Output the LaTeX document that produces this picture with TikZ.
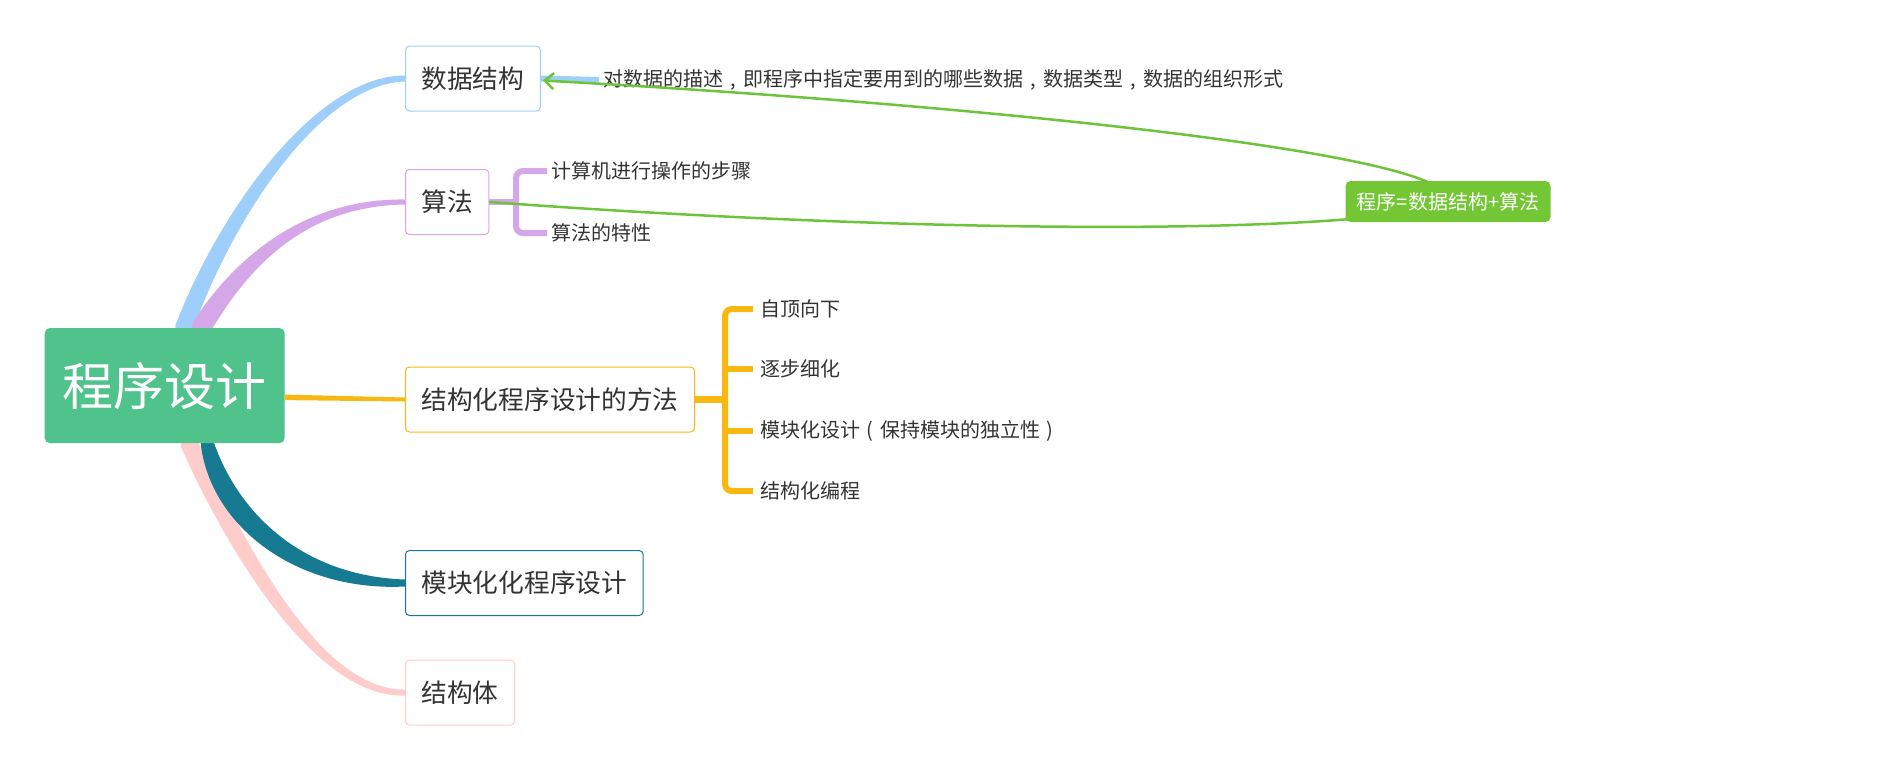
\documentclass[tikz,border=0pt]{standalone}
\usepackage{fontspec}
\newfontfamily\cjk{Noto Sans CJK SC}
\usetikzlibrary{arrows.meta,calc,backgrounds}
\definecolor{cblue}{HTML}{9ECEFA}
\definecolor{cpurple}{HTML}{D5A6E8}
\definecolor{corange}{HTML}{F8B711}
\definecolor{cteal}{HTML}{177A93}
\definecolor{cpink}{HTML}{FFCCCC}
\definecolor{croot}{HTML}{50C28C}
\definecolor{cgreen}{HTML}{73C734}
\definecolor{cgline}{HTML}{6DC43A}
\definecolor{txt}{HTML}{333333}
\newcommand{\cm}{\makebox[1em][c]{,}}
\newcommand{\lpar}{\makebox[1em][c]{(}}
\newcommand{\rpar}{\makebox[1em][c]{)}}
\begin{document}
\begin{tikzpicture}[x=1pt,y=-1pt,
  topic/.style={draw=#1,line width=1pt,rounded corners=4pt,fill=white,minimum height=65pt,
    inner xsep=16pt,inner ysep=0pt,font=\cjk\fontsize{25.7pt}{30pt}\selectfont,text=txt,anchor=west},
  subtxt/.style={anchor=west,inner sep=0pt,font=\cjk\fontsize{20pt}{24pt}\selectfont,text=txt},
  bracket/.style={draw=#1,line width=6pt,rounded corners=7pt},
  rel/.style={draw=cgline,line width=2.5pt},
]
\useasboundingbox (0,0) rectangle (1892,774);

% main topic nodes
\node[topic=cblue] (dsj) at (405,78.5) {数据结构};
\node[topic=cpurple] (sf) at (405,202) {算法};
\node[topic=corange] (jg) at (405,399.5) {结构化程序设计的方法};
\node[topic=cteal] (mk) at (405,583) {模块化化程序设计};
\node[topic=cpink] (jgt) at (405,692.5) {结构体};

% root
\node[fill=croot,rounded corners=5pt,minimum width=240pt,minimum height=115pt,inner sep=0pt,
  text=white,font=\cjk\fontsize{51pt}{60pt}\selectfont] (root) at (164.7,385.6) {程序设计};

% tapered branches behind the nodes
\begin{pgfonlayer}{background}
\fill[cblue] (175.5,325) .. controls (221,207) and (318,75) .. ($(dsj.west)+(0,-3)$)
  -- ($(dsj.west)+(0,3)$) .. controls (322,84) and (235,213) .. (192.5,331)
  -- (195,380) -- (172,380) -- cycle;
\fill[cpurple] (193,322) .. controls (231,263) and (300,198) .. ($(sf.west)+(0,-2.5)$)
  -- ($(sf.west)+(0,2.5)$) .. controls (300,206) and (245,273) .. (209,334)
  -- (205,380) -- (185,380) -- cycle;
\fill[cpink] (181,447) .. controls (230,557) and (318,699) .. ($(jgt.west)+(0,3)$)
  -- ($(jgt.west)+(0,-3)$) .. controls (322,691) and (246,549) .. (197,439)
  -- (200,400) -- (180,400) -- cycle;
\fill[cteal] (201,446) .. controls (212,528) and (298,592) .. ($(mk.west)+(0,3.5)$)
  -- ($(mk.west)+(0,-3.5)$) .. controls (303,576) and (238,514) .. (213,440)
  -- (213,400) -- (201,400) -- cycle;
\end{pgfonlayer}

% orange link root -> jg
\fill[corange] ($(root.east)+(0,9)$) -- ($(jg.west)+(0,-2)$) -- ($(jg.west)+(0,2)$) -- ($(root.east)+(0,14.5)$) -- cycle;

% sub texts
\node[subtxt] (desc) at (603,80) {对数据的描述\cm 即程序中指定要用到的哪些数据\cm 数据类型\cm 数据的组织形式};
\node[subtxt] (s1) at (551,171) {计算机进行操作的步骤};
\node[subtxt] (s2) at (551,233) {算法的特性};
\node[subtxt] (j1) at (760,309) {自顶向下};
\node[subtxt] (j2) at (760,369) {逐步细化};
\node[subtxt] (j3) at (760,431) {模块化设计\lpar 保持模块的独立性\rpar};
\node[subtxt] (j4) at (760,491) {结构化编程};

% sub connectors
\draw[cblue,line width=6pt] (dsj.east) -- ($(desc.west)+(-4,0)$);
\draw[bracket=cpurple] ($(s1.west)+(-4,0)$) -- (516,171) -- (516,233) -- ($(s2.west)+(-4,0)$);
\draw[cpurple,line width=6pt] (sf.east) -- (516,202);
\draw[bracket=corange] ($(j1.west)+(-7,0)$) -- (725,309) -- (725,491) -- ($(j4.west)+(-7,0)$);
\draw[corange,line width=6pt] (725,369) -- ($(j2.west)+(-7,0)$);
\draw[corange,line width=6pt] (725,431) -- ($(j3.west)+(-7,0)$);
\draw[corange,line width=7pt] (jg.east) -- (725,399.5);

% summary
\node[fill=cgreen,rounded corners=5pt,minimum width=205pt,minimum height=41pt,inner sep=0pt,
  text=white,font=\cjk\fontsize{20pt}{24pt}\selectfont] (gs) at (1448,201.5) {程序=数据结构+算法};

\draw[rel,-{Straight Barb[length=9pt,width=16pt,line width=2.5pt]}]
  ($(gs.north west)+(82,1)$) .. controls (1330,140) and (900,100) .. ($(dsj.east)+(2,2)$);
\draw[rel] (sf.east) .. controls (800,225) and (1150,235) .. ($(gs.south west)+(3,-3)$);
\end{tikzpicture}
\end{document}
